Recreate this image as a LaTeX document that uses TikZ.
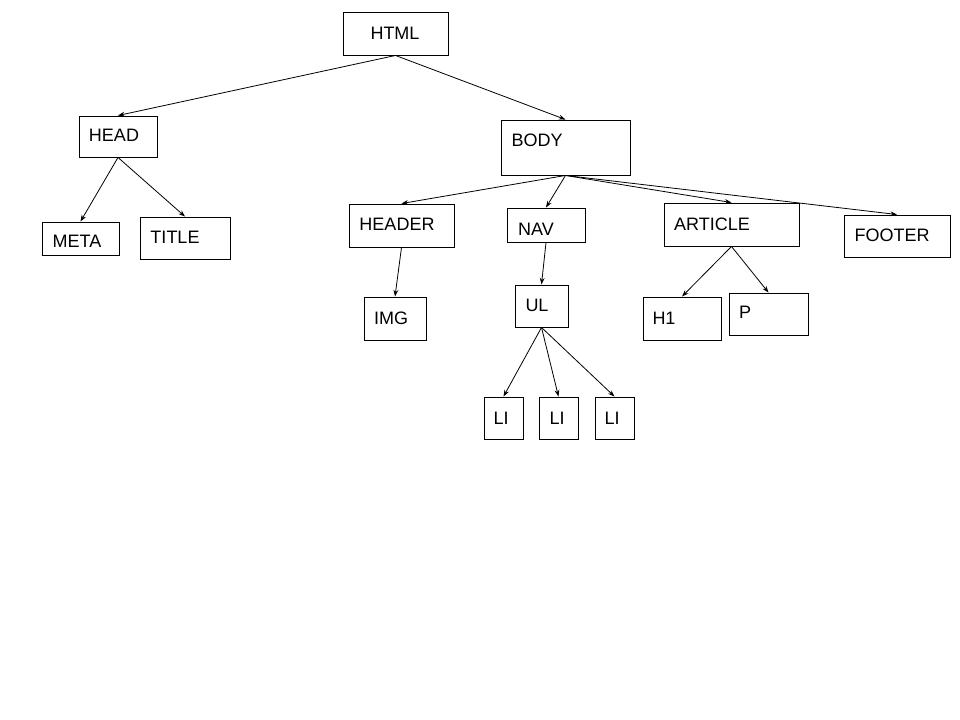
\documentclass[tikz,border=0pt]{standalone}
\usepackage{fontspec}
\setmainfont{Liberation Sans}
\usetikzlibrary{arrows.meta}
\tikzset{
  tagbox/.style 2 args={draw,line width=0.7pt,inner sep=0pt,
    minimum width=#1*0.75pt,minimum height=#2*0.75pt},
  tagtext/.style={inner sep=0pt,font=\fontsize{13.5}{16}\selectfont},
  child/.style={-{Stealth[length=5pt,width=3.6pt]},line width=0.6pt}
}
\begin{document}
\begin{tikzpicture}[x=0.75pt,y=-0.75pt]
\useasboundingbox (0,0) rectangle (960,720);
% boxes
\node[tagbox={105}{43}] (html) at (395.5,33.5) {};
\node[tagbox={78}{41}] (head) at (118,136.5) {};
\node[tagbox={77}{33}] (meta) at (80.5,238.5) {};
\node[tagbox={90}{42}] (title) at (185,238) {};
\node[tagbox={129}{55}] (body) at (565.5,147.5) {};
\node[tagbox={105}{43}] (header) at (401.5,225.5) {};
\node[tagbox={78}{34}] (nav) at (546,225) {};
\node[tagbox={135}{43}] (article) at (731.5,224.5) {};
\node[tagbox={106}{42}] (footer) at (897,236) {};
\node[tagbox={62}{43}] (img) at (395,318.5) {};
\node[tagbox={53}{42}] (ul) at (541.5,306) {};
\node[tagbox={78}{43}] (hone) at (682,318.5) {};
\node[tagbox={79}{42}] (para) at (768.5,314) {};
\node[tagbox={39}{42}] (lione) at (503.5,418) {};
\node[tagbox={39}{42}] (litwo) at (558.5,418) {};
\node[tagbox={39}{42}] (lithree) at (614.5,418) {};
% labels
\node[tagtext] (html-t) at (395,33) {HTML};
\node[tagtext] (head-t) at (114,135) {HEAD};
\node[tagtext] (meta-t) at (77,241) {META};
\node[tagtext] (title-t) at (175,237) {TITLE};
\node[tagtext] (body-t) at (537,140) {BODY};
\node[tagtext] (header-t) at (397,224) {HEADER};
\node[tagtext] (nav-t) at (536,229) {NAV};
\node[tagtext] (article-t) at (712,224) {ARTICLE};
\node[tagtext] (footer-t) at (892,235) {FOOTER};
\node[tagtext] (img-t) at (391,318) {IMG};
\node[tagtext] (ul-t) at (537,305) {UL};
\node[tagtext] (hone-t) at (664,318) {H1};
\node[tagtext] (para-t) at (745,312) {P};
\node[tagtext] (lione-t) at (501,418) {LI};
\node[tagtext] (litwo-t) at (557,418) {LI};
\node[tagtext] (lithree-t) at (612,418) {LI};
% edges
\draw[child] (html.south) -- (head.north);
\draw[child] (html.south) -- (body.north);
\draw[child] (head.south) -- (meta.north);
\draw[child] (head.south) -- (title.north);
\draw[child] (body.south) -- (header.north);
\draw[child] (body.south) -- (nav.north);
\draw[child] (body.south) -- (article.north);
\draw[child] (body.south) -- (footer.north);
\draw[child] (header.south) -- (img.north);
\draw[child] (nav.south) -- (ul.north);
\draw[child] (ul.south) -- (lione.north);
\draw[child] (ul.south) -- (litwo.north);
\draw[child] (ul.south) -- (lithree.north);
\draw[child] (article.south) -- (hone.north);
\draw[child] (article.south) -- (para.north);
\end{tikzpicture}
\end{document}
